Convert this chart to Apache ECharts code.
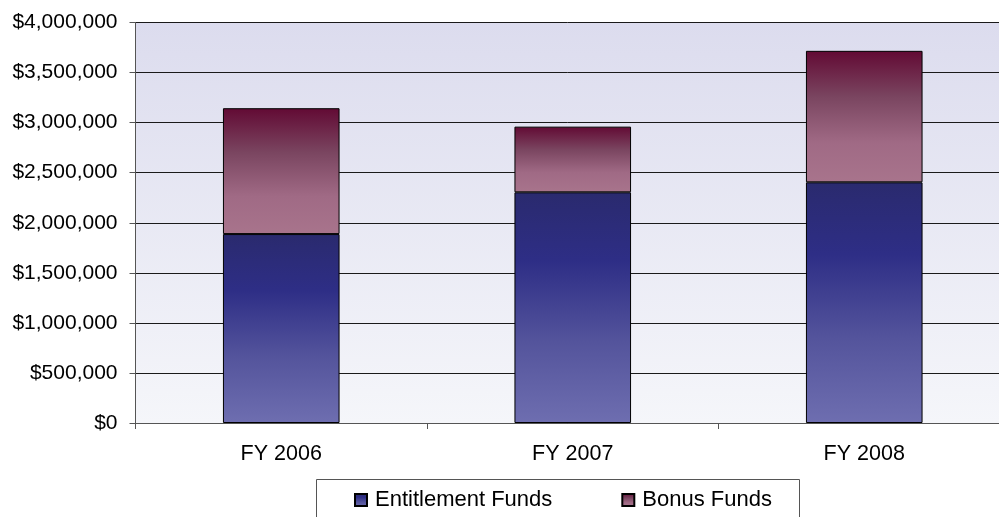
<!DOCTYPE html>
<html>
<head>
<meta charset="utf-8">
<script src="https://cdn.jsdelivr.net/npm/echarts@6/dist/echarts.min.js"></script>
<style>
  html, body { margin: 0; padding: 0; background: #ffffff; }
  #chart { width: 999px; height: 517px; }
</style>
</head>
<body>
<div id="chart"></div>
<script>
// Funding by fiscal year, stacked by source
const categories = ['FY 2006', 'FY 2007', 'FY 2008'];
const entitlementFunds = [1887000, 2304000, 2404000];
const bonusFunds = [1257000, 656000, 1313000];
const yTicks = { min: 0, max: 4000000, interval: 500000 };

const fontFamily = '"Liberation Sans", Arial, sans-serif';

function money(v) {
  return '$' + Math.round(v).toString().replace(/\B(?=(\d{3})+(?!\d))/g, ',');
}

const blueFill = new echarts.graphic.LinearGradient(0, 0, 0, 1, [
  { offset: 0, color: '#2a2a6e' },
  { offset: 0.3, color: '#2e2e86' },
  { offset: 0.65, color: '#54549c' },
  { offset: 1, color: '#6e6eb0' }
]);
const maroonFill = new echarts.graphic.LinearGradient(0, 0, 0, 1, [
  { offset: 0, color: '#620a34' },
  { offset: 0.35, color: '#7a4560' },
  { offset: 0.7, color: '#a06a85' },
  { offset: 1, color: '#a8748c' }
]);

const chart = echarts.init(document.getElementById('chart'), null, { renderer: 'canvas' });

chart.setOption({
  animation: false,
  backgroundColor: '#ffffff',
  textStyle: { fontFamily: fontFamily },
  grid: {
    left: 135.5,
    top: 22.5,
    width: 874.5,
    height: 400.5,
    outerBoundsMode: 'none',
    containLabel: false,
    show: true,
    borderWidth: 0,
    backgroundColor: new echarts.graphic.LinearGradient(0, 0, 0, 1, [
      { offset: 0, color: '#dcdcee' },
      { offset: 1, color: '#f5f6fa' }
    ])
  },
  graphic: [{
    type: 'rect',
    shape: { x: 316.5, y: 479.5, width: 483, height: 60 },
    style: { fill: '#ffffff', stroke: '#555555', lineWidth: 1 },
    z: 0
  }],
  legend: {
    left: 349,
    top: 484,
    itemWidth: 12,
    itemHeight: 12,
    itemGap: 69,
    icon: 'rect',
    z: 5,
    textStyle: { fontSize: 22, color: '#000000', fontFamily: fontFamily, padding: [0, 0, 0, 3] },
    data: ['Entitlement Funds', 'Bonus Funds']
  },
  xAxis: {
    type: 'category',
    data: categories,
    boundaryGap: true,
    axisLine: { show: true, lineStyle: { color: '#555555', width: 1 } },
    axisTick: { show: true, length: 6, lineStyle: { color: '#555555' } },
    axisLabel: { margin: 20, fontSize: 21.5, color: '#000000', fontFamily: fontFamily },
    splitLine: { show: false }
  },
  yAxis: {
    type: 'value',
    min: yTicks.min,
    max: yTicks.max,
    interval: yTicks.interval,
    axisLine: { show: true, lineStyle: { color: '#555555', width: 1 } },
    axisTick: { show: true, length: 6, lineStyle: { color: '#555555' } },
    axisLabel: { margin: 18, fontSize: 21, color: '#000000', fontFamily: fontFamily, formatter: money },
    splitLine: { show: true, lineStyle: { color: '#1a1a1a', width: 1 } }
  },
  series: [
    {
      name: 'Entitlement Funds',
      type: 'bar',
      stack: 'funds',
      barWidth: '40%',
      data: entitlementFunds,
      itemStyle: { color: blueFill, borderColor: '#000000', borderWidth: 1 }
    },
    {
      name: 'Bonus Funds',
      type: 'bar',
      stack: 'funds',
      barWidth: '40%',
      data: bonusFunds,
      itemStyle: { color: maroonFill, borderColor: '#000000', borderWidth: 1 }
    }
  ]
});
</script>
</body>
</html>
